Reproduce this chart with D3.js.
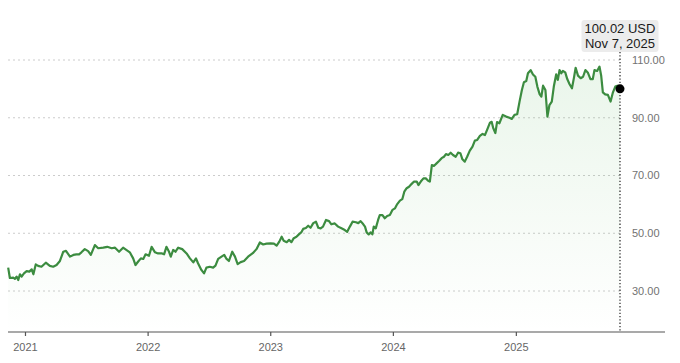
<!DOCTYPE html>
<html>
<head>
<meta charset="utf-8">
<script src="https://cdn.jsdelivr.net/npm/d3@7"></script>
<style>
  body { margin: 0; background: #fff; }
  svg { display: block; font-family: "Liberation Sans", Helvetica, Arial, sans-serif; }
</style>
</head>
<body>
<svg id="chart" width="680" height="363"></svg>
<script>
// weekly-ish closes
const dates = [
  "2020-11-12","2020-11-17","2020-11-27","2020-12-02","2020-12-07","2020-12-12","2020-12-17","2020-12-22","2020-12-29",
  "2021-01-06","2021-01-14","2021-01-21","2021-01-26","2021-02-02","2021-02-09","2021-02-19","2021-03-04","2021-03-16",
  "2021-03-26","2021-04-05","2021-04-15","2021-04-25","2021-05-03","2021-05-15","2021-05-25","2021-06-03","2021-06-11",
  "2021-06-18","2021-06-28","2021-07-08","2021-07-16","2021-07-28","2021-08-07","2021-08-22","2021-09-03","2021-09-16",
  "2021-09-26","2021-10-08","2021-10-20","2021-11-09","2021-11-19","2021-11-26","2021-12-04","2021-12-12","2021-12-19",
  "2021-12-26","2022-01-05","2022-01-13","2022-01-23","2022-02-01","2022-02-13","2022-02-19","2022-02-26","2022-03-05",
  "2022-03-11","2022-03-18","2022-03-25","2022-04-02","2022-04-14","2022-04-27","2022-05-07","2022-05-17","2022-05-25",
  "2022-05-31","2022-06-10","2022-06-18","2022-06-25","2022-07-05","2022-07-15","2022-07-22","2022-07-30","2022-08-09",
  "2022-08-17","2022-08-24","2022-08-31","2022-09-10","2022-09-18","2022-09-26","2022-10-05","2022-10-15","2022-10-27",
  "2022-11-10","2022-11-21","2022-12-01","2022-12-11","2022-12-21","2023-01-02","2023-01-12","2023-01-20","2023-01-28",
  "2023-02-04","2023-02-10","2023-02-19","2023-02-26","2023-03-05","2023-03-12","2023-03-20","2023-03-28","2023-04-04",
  "2023-04-09","2023-04-17","2023-04-24","2023-05-01","2023-05-09","2023-05-17","2023-05-24","2023-05-31","2023-06-07",
  "2023-06-16","2023-06-25","2023-07-02","2023-07-12","2023-07-22","2023-08-01","2023-08-11","2023-08-18","2023-08-26",
  "2023-09-03","2023-09-13","2023-09-20","2023-09-27","2023-10-05","2023-10-10","2023-10-15","2023-10-21","2023-10-27",
  "2023-11-01","2023-11-05","2023-11-11","2023-11-18","2023-11-23","2023-12-01","2023-12-08","2023-12-15","2023-12-23",
  "2023-12-31","2024-01-07","2024-01-14","2024-01-22","2024-01-29","2024-02-04","2024-02-11","2024-02-18","2024-02-26",
  "2024-03-04","2024-03-12","2024-03-17","2024-03-24","2024-04-01","2024-04-08","2024-04-15","2024-04-20","2024-04-26",
  "2024-05-02","2024-05-10","2024-05-18","2024-05-25","2024-06-01","2024-06-07","2024-06-14","2024-06-21","2024-06-28",
  "2024-07-06","2024-07-13","2024-07-20","2024-07-26","2024-08-02","2024-08-09","2024-08-17","2024-08-25","2024-09-01",
  "2024-09-08","2024-09-16","2024-09-24","2024-10-01","2024-10-08","2024-10-16","2024-10-21","2024-10-26","2024-11-01",
  "2024-11-06","2024-11-13","2024-11-23","2024-12-03","2024-12-13","2024-12-20","2024-12-28","2025-01-05","2025-01-12",
  "2025-01-19","2025-01-25","2025-02-01","2025-02-06","2025-02-14","2025-02-21","2025-02-28","2025-03-06","2025-03-13",
  "2025-03-18","2025-03-23","2025-03-30","2025-04-05","2025-04-11","2025-04-18","2025-04-24","2025-05-01","2025-05-06",
  "2025-05-11","2025-05-16","2025-05-21","2025-05-28","2025-06-03","2025-06-10","2025-06-17","2025-06-23","2025-06-28",
  "2025-07-05","2025-07-13","2025-07-20","2025-07-27","2025-08-03","2025-08-11","2025-08-18","2025-08-23","2025-08-31",
  "2025-09-07","2025-09-12","2025-09-17","2025-09-24","2025-10-02","2025-10-10","2025-10-17","2025-10-24","2025-10-30",
  "2025-11-07"
];
const closes = [
  38.1,34.5,34.6,34.2,35.0,33.8,35.8,35.0,36.1,
  36.9,36.7,37.5,35.8,39.2,38.7,38.4,39.8,38.7,
  38.4,39.0,40.4,43.6,43.9,41.9,42.5,42.7,42.7,
  43.4,44.5,43.8,42.5,45.9,44.8,45.0,45.3,44.8,
  45.0,43.6,45.0,43.4,41.3,39.0,40.2,41.3,41.1,
  42.7,42.2,45.3,43.4,43.0,43.0,42.7,45.3,43.8,
  41.9,44.2,43.6,45.0,44.5,43.0,41.3,39.9,41.3,
  39.6,37.3,36.1,38.1,38.4,38.1,38.8,41.1,41.9,
  42.5,41.1,40.4,43.6,41.9,39.3,40.0,40.4,41.9,
  43.1,44.5,46.8,46.1,46.4,46.5,46.4,45.7,47.1,
  48.8,47.4,46.9,47.7,46.9,48.3,48.8,49.7,50.4,
  51.5,51.8,52.6,51.9,53.5,54.0,51.9,51.7,52.3,
  54.6,54.2,53.1,53.4,52.3,51.7,51.1,50.5,52.3,
  54.0,53.8,53.5,54.2,53.1,52.3,50.3,49.6,50.3,
  49.6,52.3,51.7,54.6,56.3,56.3,55.2,56.0,56.3,
  58.1,58.6,60.1,61.3,61.8,64.4,65.6,66.1,67.1,
  67.9,67.9,66.7,67.9,69.0,69.0,68.2,67.9,73.6,
  73.3,74.2,75.1,76.0,76.5,77.4,77.1,77.9,77.1,
  76.5,77.9,77.7,75.6,74.8,76.5,78.6,80.0,82.1,
  82.3,83.7,84.4,84.0,86.0,88.3,88.6,86.3,84.7,
  88.5,88.1,91.0,90.4,90.0,89.6,91.0,91.2,95.6,
  99.6,102.3,102.7,105.4,106.5,105.0,104.2,100.8,98.1,
  97.3,101.1,99.6,90.4,94.4,95.6,100.8,105.0,103.1,
  106.5,105.4,106.2,105.7,103.4,101.6,100.2,103.9,107.3,
  104.6,103.7,104.2,106.5,105.7,103.4,103.4,106.5,106.2,
  107.7,104.6,98.8,98.1,97.9,95.6,98.8,100.8,101.1,
  100.02
];
const yTicks = [30, 50, 70, 90, 110];
const domainDates = ["2020-11-07", "2025-11-07"];
const lastLabel = ["100.02 USD", "Nov 7, 2025"];

const parse = d3.utcParse("%Y-%m-%d");
const data = dates.map((d, i) => ({date: parse(d), value: closes[i]}));
const last = data[data.length - 1];

const GREEN = "#3c8c40";
const AXIS_Y = 332;
const LEFT = 8, RIGHT = 665;

const svg = d3.select("#chart");

const x = d3.scaleUtc()
  .domain(domainDates.map(parse))
  .range([6.5, 620]);

const y = d3.scaleLinear()
  .domain([30, 110])
  .range([291, 60]);

// area gradient
const defs = svg.append("defs");
const grad = defs.append("linearGradient")
  .attr("id", "areaFill")
  .attr("gradientUnits", "userSpaceOnUse")
  .attr("x1", 0).attr("x2", 0)
  .attr("y1", y(110)).attr("y2", AXIS_Y);
grad.append("stop").attr("offset", "0%").attr("stop-color", "#4caf50").attr("stop-opacity", 0.12);
grad.append("stop").attr("offset", "100%").attr("stop-color", "#4caf50").attr("stop-opacity", 0.0);

// gridlines
svg.append("g")
  .selectAll("line")
  .data(yTicks)
  .join("line")
  .attr("x1", LEFT)
  .attr("x2", x(last.date))
  .attr("y1", d => y(d))
  .attr("y2", d => y(d))
  .attr("stroke", "#cccccc")
  .attr("stroke-width", 1)
  .attr("stroke-dasharray", "2,3");

// y labels on the right
svg.append("g")
  .selectAll("text")
  .data(yTicks)
  .join("text")
  .attr("x", 632)
  .attr("y", d => y(d))
  .attr("dy", "0.35em")
  .attr("font-size", "11px")
  .attr("fill", "#727272")
  .text(d => d3.format(".2f")(d));

// area + line
svg.append("path")
  .datum(data)
  .attr("fill", "url(#areaFill)")
  .attr("d", d3.area()
    .x(d => x(d.date))
    .y0(AXIS_Y)
    .y1(d => y(d.value)));

svg.append("path")
  .datum(data)
  .attr("fill", "none")
  .attr("stroke", GREEN)
  .attr("stroke-width", 2.2)
  .attr("stroke-linejoin", "round")
  .attr("d", d3.line()
    .x(d => x(d.date))
    .y(d => y(d.value)));

// x axis
svg.append("line")
  .attr("x1", LEFT)
  .attr("x2", RIGHT)
  .attr("y1", AXIS_Y)
  .attr("y2", AXIS_Y)
  .attr("stroke", "#555")
  .attr("stroke-width", 1.2);

const xAxis = svg.append("g")
  .attr("transform", `translate(0,${AXIS_Y})`)
  .call(d3.axisBottom(x)
    .ticks(d3.utcYear)
    .tickFormat(d3.utcFormat("%Y"))
    .tickSize(4)
    .tickPadding(7));
xAxis.select(".domain").remove();
xAxis.selectAll(".tick line").attr("stroke", "#555").attr("stroke-width", 1.2);
xAxis.selectAll(".tick text")
  .attr("font-size", "11px")
  .attr("font-family", "Liberation Sans, Helvetica, Arial, sans-serif")
  .attr("fill", "#666");

// marker for the last close
const lx = x(last.date);
svg.append("line")
  .attr("x1", lx).attr("x2", lx)
  .attr("y1", 52).attr("y2", AXIS_Y)
  .attr("stroke", "#333")
  .attr("stroke-width", 1.3)
  .attr("stroke-dasharray", "1.3,2");

svg.append("circle")
  .attr("cx", lx)
  .attr("cy", y(last.value))
  .attr("r", 4.5)
  .attr("fill", "#000");

const tip = svg.append("g");
tip.append("rect")
  .attr("x", lx - 38.5)
  .attr("y", 20)
  .attr("width", 77)
  .attr("height", 32)
  .attr("rx", 3)
  .attr("fill", "#ececec");
tip.selectAll("text")
  .data(lastLabel)
  .join("text")
  .attr("x", lx)
  .attr("y", (d, i) => 32.7 + i * 15.5)
  .attr("text-anchor", "middle")
  .attr("font-size", "13px")
  .attr("fill", "#1a1a1a")
  .text(d => d);
</script>
</body>
</html>
